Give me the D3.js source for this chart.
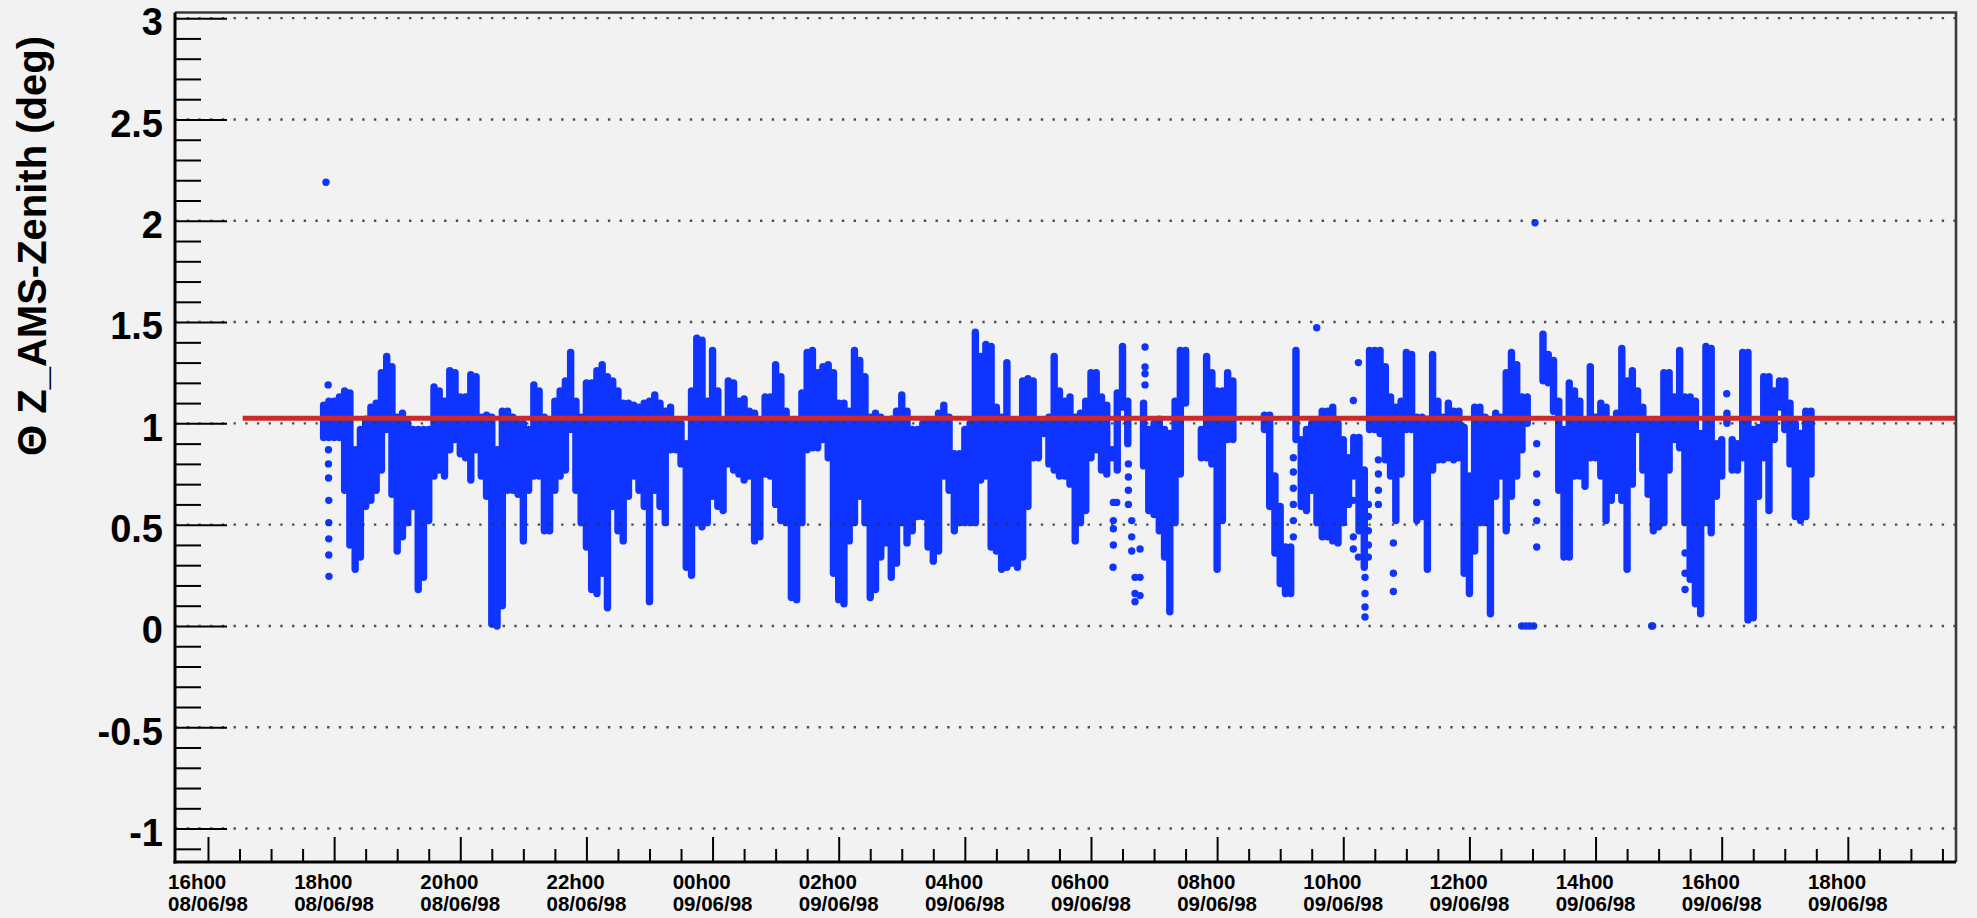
<!DOCTYPE html>
<html>
<head>
<meta charset="utf-8">
<script src="https://cdn.jsdelivr.net/npm/d3@7"></script>
<style>
  html, body { margin: 0; padding: 0; background: #f2f2f2; }
  svg { display: block; }
  text { font-family: "Liberation Sans", Arial, Helvetica, sans-serif; font-weight: bold; fill: #000; }
</style>
</head>
<body>
<svg id="chart" width="1977" height="918"></svg>
<script>
// ---------------- data ----------------
// Zenith angle of the AMS Z axis, summarised in 5-minute bins (min / max of the bin).
// Hours are counted from 08/06/98 00:00 (24 + h for the next day).
const binStartHour = 17 + 50 / 60;
const binMinutes = 5;

const bandHigh = [
  1.09,1.11,1.11,1.13,1.16,1.15,0.87,0.97,1.02,1.08,
  1.10,1.25,1.33,1.28,1.03,1.05,1.00,0.97,0.97,0.97,
  0.97,1.18,1.16,1.11,1.26,1.25,1.13,1.13,1.24,1.23,
  1.03,1.04,1.03,0.87,1.06,1.06,1.03,1.00,1.00,0.97,
  1.19,1.16,1.03,1.00,1.11,1.16,1.21,1.35,1.11,1.03,
  1.20,1.20,1.26,1.29,1.23,1.21,1.16,1.10,1.10,1.09,
  1.08,1.10,1.11,1.14,1.10,1.06,1.08,1.00,1.00,0.90,
  1.16,1.42,1.41,1.11,1.36,1.16,1.00,1.21,1.20,1.11,
  1.12,1.06,1.05,1.00,1.13,1.13,1.29,1.23,1.06,1.00,
  1.00,1.15,1.35,1.36,1.25,1.28,1.29,1.25,1.10,1.10,
  1.06,1.36,1.31,1.23,1.03,1.05,1.03,1.00,1.02,1.06,
  1.14,1.06,0.97,0.97,1.00,1.01,1.00,1.05,1.09,1.03,
  0.85,0.85,0.97,1.00,1.45,1.33,1.39,1.38,1.08,1.03,
  1.30,1.00,1.00,1.21,1.22,1.21,1.00,1.00,1.03,1.33,
  1.16,1.11,1.13,1.03,1.05,1.11,1.25,1.25,1.13,1.09,
  0.87,1.15,1.38,1.11,null,null,1.10,0.97,1.00,1.02,
  0.97,0.95,1.11,1.36,1.36,null,null,0.97,1.33,1.25,
  1.16,1.16,1.25,1.21,null,null,null,null,null,1.04,
  1.04,0.74,0.59,0.39,0.39,1.36,0.92,0.97,1.00,1.00,
  1.06,1.06,1.08,1.00,0.92,0.83,0.93,0.93,0.77,1.36,
  1.36,1.36,1.28,1.13,1.08,1.11,1.35,1.34,1.03,1.03,
  1.02,1.34,1.11,1.03,1.10,1.06,1.06,0.98,0.74,1.08,
  1.08,1.03,1.00,1.05,1.03,1.25,1.35,1.29,1.13,1.13,
  null,null,1.44,1.34,1.31,1.11,0.97,1.20,1.16,1.11,
  1.00,1.28,1.03,1.10,1.08,1.00,1.05,1.37,1.21,1.26,
  1.16,1.08,1.00,1.00,1.00,1.25,1.25,1.13,1.36,1.13,
  1.13,1.11,0.95,1.38,1.37,0.90,0.92,1.05,0.92,0.90,
  1.35,1.35,0.97,0.98,1.23,1.23,1.16,1.21,1.21,1.10,
  1.00,0.95,1.06,1.06
];

const bandLow = [
  0.93,0.93,0.93,0.93,0.67,0.40,0.28,0.34,0.59,0.62,
  0.67,0.77,0.97,0.65,0.37,0.44,0.51,0.59,0.18,0.24,
  0.52,0.74,0.77,0.74,0.87,0.92,0.85,0.83,0.72,0.87,
  0.74,0.64,0.01,0.00,0.10,0.67,0.67,0.65,0.42,0.67,
  0.74,0.74,0.47,0.47,0.67,0.74,0.77,0.97,0.67,0.51,
  0.39,0.18,0.16,0.26,0.09,0.59,0.47,0.42,0.64,0.74,
  0.67,0.59,0.12,0.67,0.59,0.51,0.87,0.87,0.80,0.29,
  0.25,0.51,0.49,0.51,0.64,0.59,0.57,0.80,0.77,0.75,
  0.72,0.74,0.42,0.44,0.75,0.74,0.60,0.52,0.51,0.14,
  0.13,0.51,0.87,0.88,0.88,0.92,0.83,0.26,0.13,0.11,
  0.42,0.51,0.64,0.51,0.14,0.18,0.34,0.41,0.24,0.31,
  0.51,0.41,0.47,0.54,0.54,0.39,0.32,0.37,0.74,0.67,
  0.47,0.51,0.51,0.51,0.51,0.72,0.74,0.39,0.37,0.28,
  0.29,0.31,0.29,0.34,0.59,0.83,0.83,0.95,0.80,0.77,
  0.74,0.74,0.70,0.42,0.51,0.57,0.83,0.87,0.77,0.75,
  0.83,0.77,1.08,0.90,null,null,0.79,0.57,0.55,0.47,
  0.34,0.07,0.51,0.75,1.10,null,null,0.83,0.83,0.80,
  0.28,0.52,0.92,0.92,null,null,null,null,null,0.97,
  0.59,0.36,0.21,0.16,0.16,0.92,0.59,0.57,0.67,0.51,
  0.44,0.44,0.42,0.41,0.51,0.60,0.74,0.47,0.29,0.97,
  0.97,0.95,0.82,0.74,0.52,0.75,0.97,0.97,0.52,0.54,
  0.28,0.77,0.82,0.82,0.83,0.82,0.83,0.26,0.16,0.37,
  0.51,0.51,0.06,0.64,0.74,0.47,0.64,0.74,0.87,1.00,
  null,null,1.21,1.20,1.06,0.67,0.34,0.34,0.74,0.74,
  0.69,0.83,0.83,0.74,0.52,0.62,0.67,0.62,0.28,0.70,
  0.97,0.77,0.65,0.47,0.49,0.51,0.77,0.92,0.88,0.51,
  0.23,0.11,0.06,0.51,0.46,0.64,0.74,1.00,0.77,0.77,
  0.83,0.03,0.04,0.64,0.83,0.57,0.92,1.08,0.97,0.80,
  0.54,0.52,0.54,0.75
];

// Individual readings outside the dense bands
const dotHour = [
  17.871,17.905,17.910,17.910,17.912,17.915,17.915,17.915,17.915,17.918,
  30.355,30.355,30.355,30.355,30.350,30.408,
  30.593,30.593,30.593,30.593,30.646,30.646,30.646,30.698,30.698,30.698,
  30.778,30.778,30.778,30.857,30.857,30.857,30.857,
  33.209,33.209,33.209,33.209,33.209,33.209,33.579,
  34.160,34.160,34.160,34.160,34.240,34.240,34.345,34.345,34.345,34.345,
  34.398,34.398,34.398,34.398,34.398,34.557,34.557,34.557,34.557,
  34.795,34.795,34.795,
  36.829,36.892,36.956,37.019,37.040,
  37.067,37.067,37.067,37.067,37.067,
  38.890,38.905,39.419,39.419,39.419,40.080
];
const dotValue = [
  2.19,1.19,0.87,0.80,0.73,0.62,0.51,0.43,0.35,0.245,
  0.61,0.52,0.48,0.40,0.29,0.61,
  0.80,0.735,0.67,0.60,0.52,0.44,0.37,0.24,0.16,0.12,
  0.38,0.24,0.15,1.377,1.278,1.245,1.19,
  0.83,0.76,0.68,0.60,0.52,0.44,1.472,
  1.113,0.62,0.44,0.38,1.30,0.34,0.24,0.16,0.094,0.044,
  0.60,0.54,0.47,0.40,0.34,0.82,0.75,0.67,0.60,
  0.41,0.26,0.17,
  0.0,0.0,0.0,0.0,1.99,
  0.90,0.75,0.61,0.52,0.39,
  0.0,0.0,0.36,0.26,0.18,1.146
];

// Nominal level drawn across the plot
const referenceLevel = 1.025;
const referenceFromHour = 16.55;

// Axis ticks and labels
const hourTicks   = [16, 18, 20, 22, 24, 26, 28, 30, 32, 34, 36, 38, 40, 42];
const timeLabels  = ["16h00","18h00","20h00","22h00","00h00","02h00","04h00",
                     "06h00","08h00","10h00","12h00","14h00","16h00","18h00"];
const dateLabels  = ["08/06/98","08/06/98","08/06/98","08/06/98","09/06/98","09/06/98","09/06/98",
                     "09/06/98","09/06/98","09/06/98","09/06/98","09/06/98","09/06/98","09/06/98"];
const yTicks      = [-1, -0.5, 0, 0.5, 1, 1.5, 2, 2.5, 3];
const yTickLabels = ["-1","-0.5","0","0.5","1","1.5","2","2.5","3"];
const yTitle = "\u0398 Z_AMS-Zenith (deg)";

// ---------------- layout ----------------
const frame = { left: 175, right: 1956, top: 12.5, bottom: 862 };
const x = d3.scaleLinear().domain([15.477, 43.715]).range([frame.left, frame.right]);
const y = d3.scaleLinear().domain([-1.165, 3.028]).range([frame.bottom, frame.top]);

const svg = d3.select("#chart");
const dotR = 3.7;
const blue = "#1034ff";

// minor tick positions
const xMinor = d3.range(15.5, 43.6, 0.5).filter(h => hourTicks.indexOf(h) < 0 && x(h) > frame.left + 3);
const yMinor = d3.range(-11, 31, 1).map(v => v / 10).filter(v => Math.abs(v * 2 - Math.round(v * 2)) > 1e-6);

// ---------------- data marks ----------------
const marks = svg.append("g").attr("class", "marks");
const bins = bandHigh.map((hi, i) => ({ hour: binStartHour + i * binMinutes / 60, hi, lo: bandLow[i] }))
  .filter(d => d.hi !== null && d.lo !== null);

marks.selectAll("rect.band").data(bins).join("rect")
  .attr("class", "band")
  .attr("x", d => x(d.hour) - dotR)
  .attr("width", 2 * dotR)
  .attr("y", d => y(d.hi) - dotR)
  .attr("height", d => y(d.lo) - y(d.hi) + 2 * dotR)
  .attr("rx", dotR)
  .attr("fill", blue);

marks.selectAll("circle.pt").data(dotHour.map((h, i) => ({ h, v: dotValue[i] }))).join("circle")
  .attr("class", "pt")
  .attr("cx", d => x(d.h))
  .attr("cy", d => y(d.v))
  .attr("r", dotR)
  .attr("fill", blue);

// dotted horizontal grid, drawn over the points
const grid = svg.append("g").attr("class", "grid");
grid.selectAll("line").data(yTicks).join("line")
  .attr("x1", frame.left).attr("x2", frame.right)
  .attr("y1", d => y(d)).attr("y2", d => y(d))
  .attr("stroke", "#333").attr("stroke-width", 2.4)
  .attr("stroke-dasharray", "2.4 9.3").attr("opacity", 0.85);

// reference line
svg.append("line")
  .attr("x1", x(referenceFromHour)).attr("x2", frame.right)
  .attr("y1", y(referenceLevel)).attr("y2", y(referenceLevel))
  .attr("stroke", "#cc2a2a").attr("stroke-width", 5);

// ---------------- frame ----------------
svg.append("path")
  .attr("d", `M${frame.left},${frame.top}H${frame.right}V${frame.bottom}`)
  .attr("fill", "none").attr("stroke", "#3a3a3a").attr("stroke-width", 2.6);

// ---------------- y axis ----------------
const yAxisMajor = d3.axisLeft(y).tickValues(yTicks)
  .tickFormat((d, i) => yTickLabels[i]).tickSizeInner(-52).tickSizeOuter(0).tickPadding(12);
const gy = svg.append("g").attr("transform", `translate(${frame.left},0)`).call(yAxisMajor);
gy.selectAll(".tick line").attr("stroke", "#000").attr("stroke-width", 2);
gy.selectAll(".tick text").attr("font-size", 38).attr("dy", "0.44em")
  .attr("font-family", "Liberation Sans, Arial, sans-serif").attr("font-weight", "bold").attr("fill", "#000");
gy.select(".domain").remove();

const yAxisMinor = d3.axisLeft(y).tickValues(yMinor).tickFormat("").tickSizeInner(-26).tickSizeOuter(0);
const gy2 = svg.append("g").attr("transform", `translate(${frame.left},0)`).call(yAxisMinor);
gy2.selectAll(".tick line").attr("stroke", "#000").attr("stroke-width", 2);
gy2.select(".domain").remove();

// ---------------- x axis ----------------
const xAxisMajor = d3.axisBottom(x).tickValues(hourTicks).tickFormat("").tickSizeInner(-25).tickSizeOuter(0);
const gx = svg.append("g").attr("transform", `translate(0,${frame.bottom})`).call(xAxisMajor);
gx.selectAll(".tick line").attr("stroke", "#000").attr("stroke-width", 2);
gx.select(".domain").remove();

const xAxisMinor = d3.axisBottom(x).tickValues(xMinor).tickFormat("").tickSizeInner(-13).tickSizeOuter(0);
const gx2 = svg.append("g").attr("transform", `translate(0,${frame.bottom})`).call(xAxisMinor);
gx2.selectAll(".tick line").attr("stroke", "#000").attr("stroke-width", 2);
gx2.select(".domain").remove();

// two-line time labels: date centred on the tick, time left-aligned with it
const xl = svg.append("g").attr("class", "xlabels");
hourTicks.forEach((h, i) => {
  const date = xl.append("text").attr("x", x(h)).attr("y", 911)
    .attr("text-anchor", "middle").attr("font-size", 20.5).attr("fill", "#111").text(dateLabels[i]);
  const left = x(h) - date.node().getComputedTextLength() / 2;
  date.attr("text-anchor", "start").attr("x", left);
  xl.append("text").attr("x", left).attr("y", 889)
    .attr("font-size", 20.5).attr("fill", "#111").text(timeLabels[i]);
});

// axis lines
svg.append("line").attr("x1", frame.left).attr("x2", frame.left)
  .attr("y1", frame.top).attr("y2", frame.bottom + 1.5)
  .attr("stroke", "#000").attr("stroke-width", 3);
svg.append("line").attr("x1", frame.left - 1.5).attr("x2", frame.right)
  .attr("y1", frame.bottom).attr("y2", frame.bottom)
  .attr("stroke", "#000").attr("stroke-width", 3);

// ---------------- y title ----------------
svg.append("text")
  .attr("transform", `translate(46,36) rotate(-90)`)
  .attr("text-anchor", "end")
  .attr("font-size", 40)
  .text(yTitle);
</script>
</body>
</html>
